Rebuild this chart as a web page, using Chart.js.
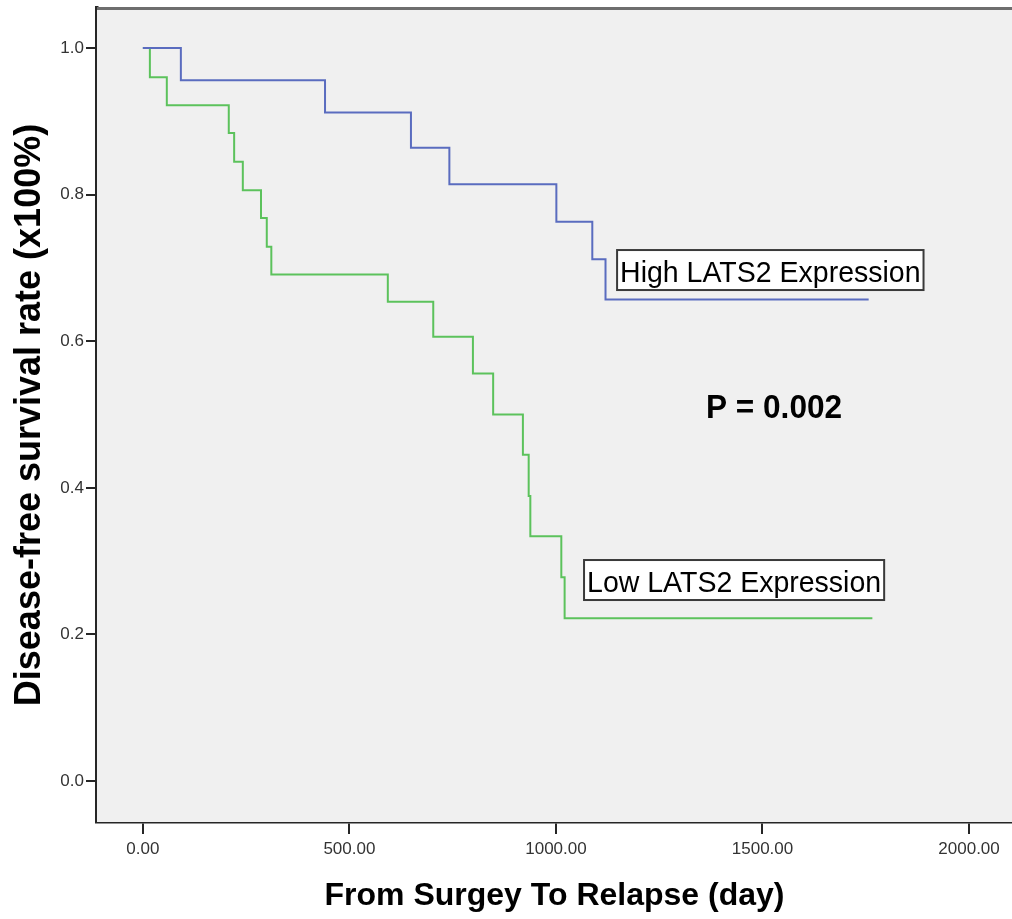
<!DOCTYPE html>
<html>
<head>
<meta charset="utf-8">
<script src="https://cdn.jsdelivr.net/npm/chart.js@4.4.1/dist/chart.umd.min.js"></script>
<style>
  html, body { margin: 0; padding: 0; background: #ffffff; }
  #wrap { width: 1012px; height: 919px; position: relative; }
</style>
</head>
<body>
<div id="wrap"><canvas id="c" width="1012" height="919"></canvas></div>
<script>
// ---- Data ----
const highDays = [0, 92, 441, 649, 742, 1001, 1088, 1120, 1757];
const highSurv = [1.0, 0.956, 0.912, 0.864, 0.814, 0.763, 0.712, 0.657, 0.657];

const lowDays = [0, 17, 58, 208, 221, 242, 286, 300, 311, 593, 703, 799, 848, 920, 934, 938, 1013, 1021, 1766];
const lowSurv = [1.0, 0.960, 0.922, 0.884, 0.845, 0.806, 0.768, 0.729, 0.691, 0.654, 0.606, 0.556, 0.500, 0.445, 0.389, 0.334, 0.278, 0.222, 0.222];

const xTickValues = [0, 500, 1000, 1500, 2000];
const yTickValues = [0.0, 0.2, 0.4, 0.6, 0.8, 1.0];

const seriesNames = ['High LATS2 Expression', 'Low LATS2 Expression'];
const pText = 'P = 0.002';
const xTitle = 'From Surgey To Relapse (day)';
const yTitle = 'Disease-free survival rate (x100%)';

// ---- Annotation placement (data units) ----
const notes = [
  { text: seriesNames[0], x: 1148, y: 0.7244, boxed: true, font: '30px "Liberation Sans", Arial, sans-serif', hscale: 0.95 },
  { text: seriesNames[1], x: 1068, y: 0.3015, boxed: true, font: '30px "Liberation Sans", Arial, sans-serif', hscale: 0.95 },
  { text: pText, x: 1363, y: 0.495, boxed: false, font: 'bold 34px "Liberation Sans", Arial, sans-serif', hscale: 0.93 }
];

const toPts = (xs, ys) => xs.map((d, i) => ({ x: d, y: ys[i] }));

const frame = {
  id: 'frame',
  beforeDatasetsDraw(chart) {
    const { ctx, chartArea: a } = chart;
    ctx.save();
    ctx.fillStyle = '#f0f0f0';
    ctx.fillRect(a.left, a.top, a.right - a.left, a.bottom - a.top);
    ctx.strokeStyle = '#6e6e6e';
    ctx.lineWidth = 3;
    ctx.beginPath();
    ctx.moveTo(a.left, a.top + 0.5);
    ctx.lineTo(a.right, a.top + 0.5);
    ctx.stroke();
    ctx.restore();
  },
  afterDatasetsDraw(chart) {
    const { ctx, scales } = chart;
    ctx.save();
    notes.forEach(n => {
      const px = scales.x.getPixelForValue(n.x);
      const py = scales.y.getPixelForValue(n.y);
      ctx.font = n.font;
      const w = ctx.measureText(n.text).width * n.hscale;
      if (n.boxed) {
        const bw = w + 6, bh = 40;
        ctx.fillStyle = '#ffffff';
        ctx.fillRect(px, py, bw, bh);
        ctx.strokeStyle = '#3a3a3a';
        ctx.lineWidth = 2;
        ctx.strokeRect(px, py, bw, bh);
        ctx.save();
        ctx.translate(px + 3, py + 32);
        ctx.scale(n.hscale, 1);
        ctx.fillStyle = '#000000';
        ctx.textBaseline = 'alphabetic';
        ctx.fillText(n.text, 0, 0);
        ctx.restore();
      } else {
        ctx.save();
        ctx.translate(px, py);
        ctx.scale(n.hscale, 1);
        ctx.fillStyle = '#000000';
        ctx.textBaseline = 'alphabetic';
        ctx.fillText(n.text, 0, 0);
        ctx.restore();
      }
    });
    ctx.restore();
  }
};

new Chart(document.getElementById('c'), {
  type: 'line',
  data: {
    datasets: [
      {
        label: seriesNames[0],
        data: toPts(highDays, highSurv),
        borderColor: '#5a6cbf',
        borderWidth: 2,
        pointRadius: 0,
        stepped: 'before',
        fill: false
      },
      {
        label: seriesNames[1],
        data: toPts(lowDays, lowSurv),
        borderColor: '#5cc25c',
        borderWidth: 2,
        pointRadius: 0,
        stepped: 'before',
        fill: false
      }
    ]
  },
  options: {
    responsive: false,
    animation: false,
    layout: { padding: { top: 8, right: 0, left: 0, bottom: 0 } },
    plugins: { legend: { display: false }, tooltip: { enabled: false } },
    scales: {
      x: {
        type: 'linear',
        min: -111,
        max: 2104,
        afterBuildTicks: s => { s.ticks = xTickValues.map(v => ({ value: v })); },
        afterFit: s => { s.height = 97; s.paddingLeft = 0; s.paddingRight = 0; },
        border: { display: true, color: '#262626', width: 3.5 },
        grid: { drawOnChartArea: false, drawTicks: true, tickLength: 12, color: '#262626', lineWidth: 2 },
        ticks: {
          padding: 5,
          color: '#333333',
          font: { family: '"Liberation Sans", Arial, sans-serif', size: 17 },
          callback: v => Number(v).toFixed(2),
          maxRotation: 0,
          autoSkip: false
        },
        title: {
          display: true,
          text: xTitle,
          color: '#000000',
          font: { family: '"Liberation Sans", Arial, sans-serif', size: 32, weight: 'bold', lineHeight: 1.2 },
          padding: { top: 0, bottom: 4 }
        }
      },
      y: {
        type: 'linear',
        min: -0.0559,
        max: 1.0546,
        afterBuildTicks: s => { s.ticks = yTickValues.map(v => ({ value: v })); },
        afterFit: s => { s.width = 97; s.paddingTop = 0; s.paddingBottom = 0; },
        border: { display: true, color: '#262626', width: 3.5 },
        grid: { drawOnChartArea: false, drawTicks: true, tickLength: 11, color: '#262626', lineWidth: 2 },
        ticks: {
          padding: 2,
          color: '#333333',
          font: { family: '"Liberation Sans", Arial, sans-serif', size: 17 },
          callback: v => Number(v).toFixed(1),
          autoSkip: false
        },
        title: {
          display: true,
          text: yTitle,
          color: '#000000',
          font: { family: '"Liberation Sans", Arial, sans-serif', size: 36, weight: 'bold', lineHeight: 1.2 },
          padding: { top: 8, bottom: 0 }
        }
      }
    }
  },
  plugins: [frame]
});
</script>
</body>
</html>
